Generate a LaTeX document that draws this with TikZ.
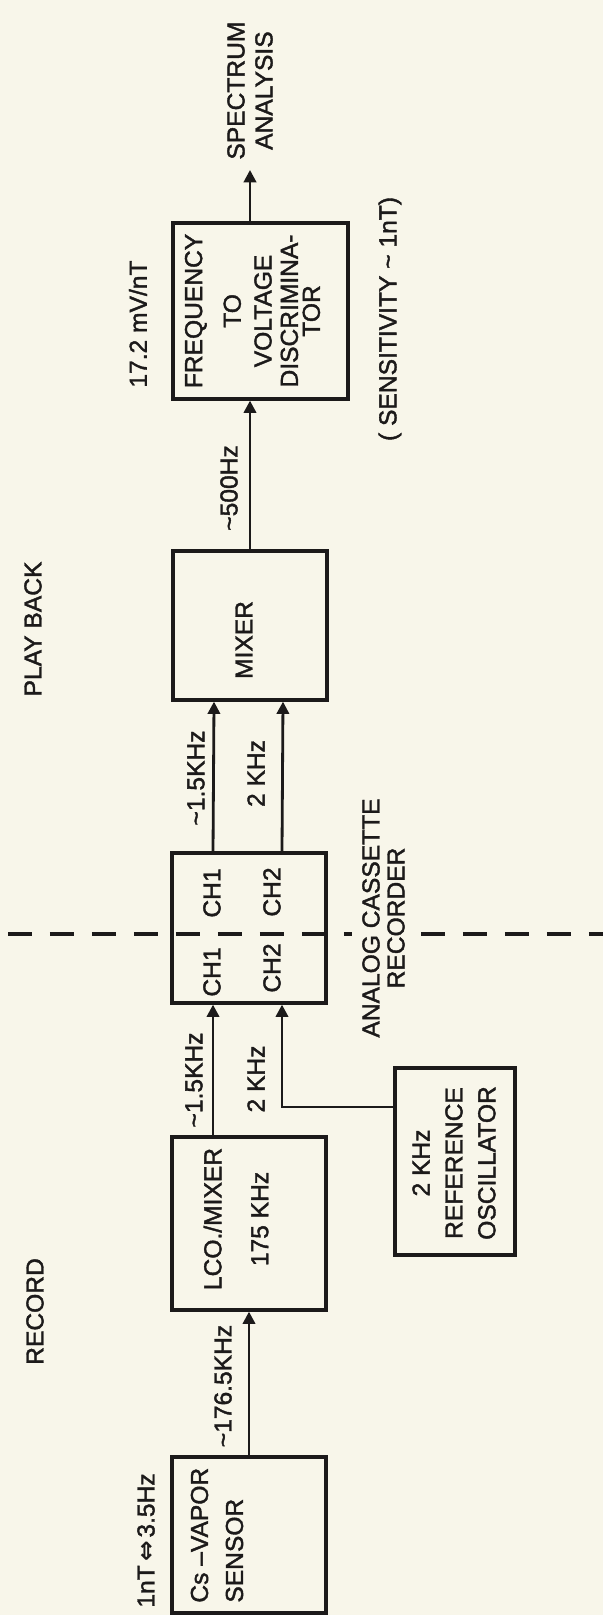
\documentclass[tikz,border=0pt]{standalone}
\usepackage{fontspec}
\setmainfont{Liberation Sans}[FakeBold=1.6]
\newfontfamily\arrowfont{DejaVu Sans}
\usetikzlibrary{arrows.meta}

\definecolor{paper}{RGB}{248,246,234}
\definecolor{ink}{RGB}{28,26,26}

\tikzset{
  blk/.style={draw=ink, line width=1.9pt, minimum width=3.08cm, inner sep=0pt},
  txt/.style={rotate=90, inner sep=0pt, text=ink, font=\fontsize{14}{17}\selectfont},
  sig/.style={draw=ink, line width=1.6pt, -{Triangle[length=7pt, width=7pt]}},
  split/.style={draw=ink, line width=1.8pt, dash pattern=on 0.48cm off 0.36cm},
}

\begin{document}
\begin{tikzpicture}[x=0.02cm, y=0.02cm]
  \fill[paper] (0,0) rectangle (603,1615);
  \useasboundingbox (0,0) rectangle (603,1615);

  \node[blk, minimum height=3.12cm] (sensor) at (249,80) {};
  \node[blk, minimum height=3.46cm] (lco) at (249,391.5) {};
  \node[blk, minimum height=3cm] (rec) at (249,687) {};
  \node[blk, minimum height=2.98cm] (mixer) at (250,989.5) {};
  \node[blk, minimum width=3.5cm, minimum height=3.52cm] (disc) at (260.5,1304) {};
  \node[blk, minimum width=2.4cm, minimum height=3.74cm] (osc) at (455,453.5) {};

  \node[txt, anchor=west, align=left, font=\fontsize{14}{19.9}\selectfont] (sensortxt) at (217,12) {Cs --VAPOR\\SENSOR};
  \node[txt, align=center, font=\fontsize{14}{26.7}\selectfont] (lcotxt) at (236,396) {LCO./MIXER\\175 KHz};
  \node[txt] (ch1rec) at (212,643) {CH1};
  \node[txt] (ch1play) at (212,722) {CH1};
  \node[txt] (ch2rec) at (272,647) {CH2};
  \node[txt] (ch2play) at (272,723) {CH2};
  \node[txt] (mixertxt) at (244,975) {MIXER};
  \node[txt, align=center, font=\fontsize{14}{15}\selectfont] (disctxt) at (252.5,1304)
    {FREQUENCY\\[7pt]TO\\[2.5pt]VOLTAGE\\DISCRIMINA-\\[-2.5pt]TOR};
  \node[txt, align=center, font=\fontsize{14}{18.7}\selectfont] (osctxt) at (454,452) {2 KHz\\REFERENCE\\OSCILLATOR};

  \node[txt, anchor=west] (scale) at (146,7) {1nT\hspace{2pt}{\arrowfont\bfseries ⇔}\hspace{2pt}3.5Hz};
  \node[txt] (f1) at (223,229) {\textasciitilde176.5KHz};
  \node[txt] (f2) at (194,535) {\textasciitilde1.5KHz};
  \node[txt] (f3) at (256,536) {2 KHz};
  \node[txt] (f4) at (196,837) {\textasciitilde1.5KHz};
  \node[txt] (f5) at (256,841.5) {2 KHz};
  \node[txt] (f6) at (229,1127) {\textasciitilde500Hz};
  \node[txt, anchor=west] (gain) at (138,1227) {17.2 mV/nT};
  \node[txt] (sens) at (390,1296) {( SENSITIVITY \textasciitilde{} 1nT)};
  \node[txt, anchor=west, align=center, font=\fontsize{14}{15.9}\selectfont] (spec) at (250,1455) {SPECTRUM\\ANALYSIS};
  \node[txt] (record) at (35,303.5) {RECORD};
  \node[txt] (play) at (33,986) {PLAY BACK};
  \node[txt, align=center, font=\fontsize{14}{14.2}\selectfont] (cassette) at (383.5,697) {ANALOG CASSETTE\\RECORDER};

  \draw[sig] (sensor.north) -- (lco.south);
  \draw[sig] ([xshift=-0.72cm]lco.north) -- ([xshift=-0.72cm]rec.south);
  \draw[sig] ([yshift=1.09cm]osc.west) -| ([xshift=0.66cm]rec.south);
  \draw[sig] ([xshift=-0.72cm]rec.north) -- ([xshift=-0.72cm]mixer.south);
  \draw[sig] ([xshift=0.66cm]rec.north) -- ([xshift=0.66cm]mixer.south);
  \draw[sig] (mixer.north) -- (mixer.north |- disc.south);
  \draw[sig] (spec.west |- disc.north) -- ([yshift=-0.2cm]spec.west);

  % record / play back split, broken round the recorder text
  \draw[split] (8,681) -- (352,681);
  \draw[split] (421,681) -- (603,681);
\end{tikzpicture}
\end{document}
